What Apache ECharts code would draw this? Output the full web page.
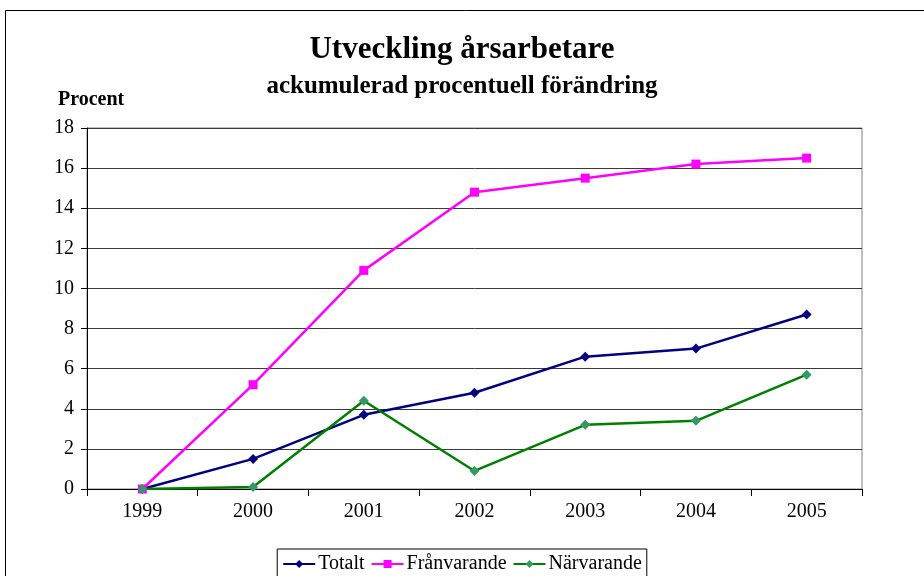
<!DOCTYPE html>
<html><head><meta charset="utf-8">
<script src="https://cdn.jsdelivr.net/npm/echarts@6/dist/echarts.min.js"></script>
<style>html,body{margin:0;padding:0;background:#fff}#c{width:924px;height:576px}</style>
</head><body><div id="c"></div>
<script>
const categories = ['1999','2000','2001','2002','2003','2004','2005'];
const totalt = [0, 1.5, 3.7, 4.8, 6.6, 7.0, 8.7];
const franvarande = [0, 5.2, 10.9, 14.8, 15.5, 16.2, 16.5];
const narvarande = [0, 0.1, 4.4, 0.9, 3.2, 3.4, 5.7];
const seriesNames = ['Totalt', 'Frånvarande', 'Närvarande'];

const F = 'Liberation Serif, Times New Roman, serif';
const chart = echarts.init(document.getElementById('c'));
chart.setOption({
  animation: false,
  title: [
    {text: 'Utveckling årsarbetare', left: 'center', top: 29,
     textStyle: {fontFamily: F, fontSize: 31, fontWeight: 'bold', color: '#000'}},
    {text: 'ackumulerad procentuell förändring', left: 'center', top: 69,
     textStyle: {fontFamily: F, fontSize: 25, fontWeight: 'bold', color: '#000'}},
    {text: 'Procent', left: 53, top: 85,
     textStyle: {fontFamily: F, fontSize: 20, fontWeight: 'bold', color: '#000'}}
  ],
  graphic: [{type: 'rect', shape: {x: 5.5, y: 10.5, width: 940, height: 600},
    style: {fill: 'none', stroke: '#000', lineWidth: 1}, silent: true}],
  grid: {left: 87, right: 62, top: 128, bottom: 87, show: true,
    borderColor: '#808080', borderWidth: 1, backgroundColor: 'transparent'},
  legend: {
    bottom: -10, left: 'center',
    data: seriesNames,
    itemWidth: 32, itemHeight: 10, itemGap: 6,
    padding: [5, 5, 12, 5],
    borderColor: '#000', borderWidth: 1, borderRadius: 0,
    textStyle: {fontFamily: F, fontSize: 20, color: '#000', padding: [0, 0, 0, -2]}
  },
  xAxis: {
    type: 'category', data: categories, boundaryGap: true,
    axisLine: {lineStyle: {color: '#000', width: 1}},
    axisTick: {show: true, length: 7, inside: false, lineStyle: {color: '#000'}},
    axisLabel: {fontFamily: F, fontSize: 20, color: '#000', margin: 13},
    splitLine: {show: false}
  },
  yAxis: {
    type: 'value', min: 0, max: 18, interval: 2,
    axisLine: {show: true, lineStyle: {color: '#000', width: 1}},
    axisTick: {show: true, length: 6, lineStyle: {color: '#000'}},
    axisLabel: {fontFamily: F, fontSize: 20, color: '#000', margin: 13},
    splitLine: {show: true, lineStyle: {color: '#3a3a3a', width: 1}}
  },
  series: [
    {name: seriesNames[0], type: 'line', data: totalt, symbol: 'diamond', symbolSize: 10,
     lineStyle: {color: '#000080', width: 2.5}, itemStyle: {color: '#000080'}},
    {name: seriesNames[1], type: 'line', data: franvarande, symbol: 'rect', symbolSize: 9,
     lineStyle: {color: '#FF00FF', width: 2.5}, itemStyle: {color: '#FF00FF'}},
    {name: seriesNames[2], type: 'line', data: narvarande, symbol: 'diamond', symbolSize: 10,
     lineStyle: {color: '#008000', width: 2.5}, itemStyle: {color: '#339966'}}
  ]
});
</script></body></html>
